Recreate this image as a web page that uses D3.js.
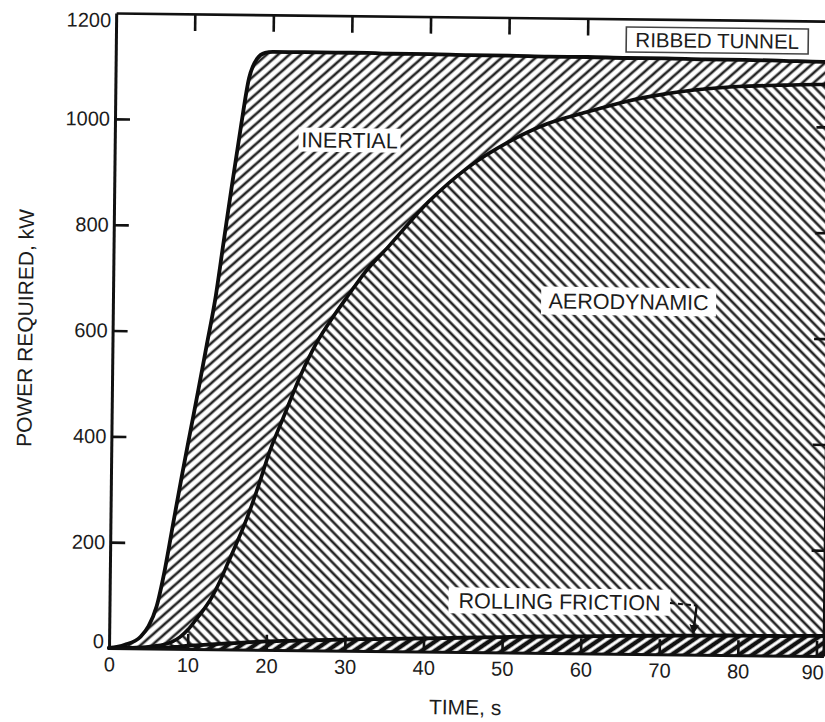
<!DOCTYPE html>
<html>
<head>
<meta charset="utf-8">
<script src="https://cdn.jsdelivr.net/npm/d3@7"></script>
<style>
  html, body { margin: 0; padding: 0; background: #fff; }
  svg { display: block; }
  text { font-family: "Liberation Sans", Arial, sans-serif; fill: #1c1c1c; }
</style>
</head>
<body>
<svg id="chart" width="825" height="722"></svg>
<script>
// Power required during a run in the ribbed tunnel, split into its three parts (kW)
const times = [0,2,4,5,6,7,8,9,10,11,12,13,14,15,16,17,18,19,20,22,24,26,28,30,32,35,40,45,50,55,60,65,70,75,80,85,90,90.9];
const rollingFriction = [0,0,0.5,1,1.5,2,3,4,6,7,8,9,10,11,12,13,14,15,16,17,18,19,20,21,22,23,25,27,29,31,32,34,35,36,37,37,38,38];
const aerodynamic = [0,0.5,1.5,2,3.5,6,10,18,30,48,67,89,118,152,186,221,261,305,352,428,502,563,610,652,693,742,825,889,935,969,991,1010,1024,1033,1038,1041,1042,1042];
const inertial = [0,6,20,39,75,142,225,303,372,435,500,562,642,717,787,846,842,808,762,685,610,548,500,457,415,364,279,212,164,127,104,82,67,56,50,46,43,43];

const seriesKeys = ["rolling", "aero", "inertial"];
const xTicks = [0,10,20,30,40,50,60,70,80,90];
const xTopTicks = [10,20,30,40,50,60];
const yTicks = [0,200,400,600,800,1000,1200];
const yInnerTicks = [200,400,600,800,1000];

const svg = d3.select("#chart");
const defs = svg.append("defs");

// diagonal hatch fills
function hatch(id, angle, period, width, color) {
  const p = defs.append("pattern")
    .attr("id", id)
    .attr("patternUnits", "userSpaceOnUse")
    .attr("width", period).attr("height", period)
    .attr("patternTransform", `rotate(${angle})`);
  p.append("rect").attr("width", period).attr("height", period).attr("fill", "#fff");
  p.append("line")
    .attr("x1", period / 2).attr("x2", period / 2)
    .attr("y1", -1).attr("y2", period + 1)
    .attr("stroke", color).attr("stroke-width", width);
}
hatch("hatch-inertial", 48, 7.5, 2.6, "#262626");
hatch("hatch-aero", -45, 7.2, 2.6, "#262626");
hatch("hatch-rolling", 55, 7.6, 4.4, "#111");

defs.append("marker")
  .attr("id", "arrow")
  .attr("viewBox", "0 0 10 10")
  .attr("refX", 9).attr("refY", 5)
  .attr("markerWidth", 4).attr("markerHeight", 4)
  .attr("orient", "auto")
  .append("path").attr("d", "M0,0 L10,5 L0,10 z").attr("fill", "#111");

// plot frame, origin at the lower-left corner (the printed sheet sits slightly askew)
const W = 714.5, H = 635;
const g = svg.append("g").attr("transform", "translate(109,648) rotate(0.65)");

const x = d3.scaleLinear().domain([0, 90.9]).range([0, W]);
const y = d3.scaleLinear().domain([0, 1200]).range([0, -H]);

const rows = times.map((t, i) => ({
  t,
  rolling: rollingFriction[i],
  aero: aerodynamic[i],
  inertial: inertial[i]
}));
const stacked = d3.stack().keys(seriesKeys)(rows);

const area = d3.area()
  .x(d => x(d.data.t))
  .y0(d => y(d[0]))
  .y1(d => y(d[1]))
  .curve(d3.curveMonotoneX);

const fills = { rolling: "url(#hatch-rolling)", aero: "url(#hatch-aero)", inertial: "url(#hatch-inertial)" };

g.selectAll("path.area")
  .data(stacked)
  .join("path")
  .attr("class", "area")
  .attr("d", area)
  .attr("fill", d => fills[d.key]);

// label plates knocked out of the hatching
const labels = [
  { text: "INERTIAL", t: 29.87, p: 965, w: 102, h: 24, size: 21.5 },
  { text: "AERODYNAMIC", t: 65.6, p: 666, w: 175, h: 28, size: 21.5 },
  { text: "ROLLING FRICTION", t: 57.25, p: 97.5, w: 222, h: 26, size: 21.5 }
];

const lab = g.selectAll("g.label").data(labels).join("g")
  .attr("class", "label")
  .attr("transform", d => `translate(${x(d.t)},${y(d.p)})`);
lab.append("rect")
  .attr("x", d => -d.w / 2).attr("y", d => -d.h / 2)
  .attr("width", d => d.w).attr("height", d => d.h)
  .attr("fill", "#fff");
lab.append("text")
  .attr("text-anchor", "middle")
  .attr("dy", "0.36em")
  .attr("font-size", d => d.size)
  .text(d => d.text);

// boundary curves between the components
const edge = d3.line()
  .x(d => x(d.data.t))
  .y(d => y(d[1]))
  .curve(d3.curveMonotoneX);
const edgeWidth = { rolling: 3.8, aero: 3.6, inertial: 3.8 };
g.selectAll("path.edge")
  .data(stacked)
  .join("path")
  .attr("class", "edge")
  .attr("d", edge)
  .attr("fill", "none")
  .attr("stroke", "#0d0d0d")
  .attr("stroke-width", d => edgeWidth[d.key])
  .attr("stroke-linejoin", "round")
  .attr("stroke-linecap", "round");

// leader from the rolling-friction label down to its band
g.append("path")
  .attr("d", d3.line()([[x(71.3), y(97)], [x(74.7), y(93)]]))
  .attr("stroke", "#111").attr("stroke-width", 2)
  .attr("stroke-dasharray", "5,3").attr("fill", "none");
g.append("path")
  .attr("d", d3.line()([[x(74.7), y(93)], [x(74.3), y(40)]]))
  .attr("stroke", "#111").attr("stroke-width", 2.4)
  .attr("fill", "none")
  .attr("marker-end", "url(#arrow)");

// axes
function styleAxis(sel, w) {
  sel.selectAll(".domain").attr("stroke", "#111").attr("stroke-width", w);
  sel.selectAll(".tick line").attr("stroke", "#111").attr("stroke-width", 2.6);
  sel.selectAll(".tick text").attr("font-size", 20).attr("fill", "#1c1c1c")
    .attr("font-family", '"Liberation Sans", Arial, sans-serif');
}

const gx = g.append("g")
  .call(d3.axisBottom(x).tickValues(xTicks).tickSize(-15).tickSizeOuter(0).tickPadding(9).tickFormat(d3.format("d")));
styleAxis(gx, 3);
gx.selectAll(".tick").filter(d => d === 0).select("line").remove();
gx.selectAll(".tick").filter(d => d === 90).select("text").attr("dx", "-4");

const gxTop = g.append("g")
  .attr("transform", `translate(0,${-H})`)
  .call(d3.axisTop(x).tickValues(xTopTicks).tickSize(-17).tickSizeOuter(0).tickFormat(""));
styleAxis(gxTop, 2.6);

const gy = g.append("g")
  .call(d3.axisLeft(y).tickValues(yTicks).tickSize(-15).tickSizeOuter(0).tickPadding(5).tickFormat(d3.format("d")));
styleAxis(gy, 3);
gy.selectAll(".tick").filter(d => d === 0 || d === 1200).select("line").remove();
gy.selectAll(".tick").filter(d => d === 1200).select("text").attr("dy", "0.68em");
gy.selectAll(".tick").filter(d => d === 0).select("text").attr("dy", "-0.02em");

const gyRight = g.append("g")
  .attr("transform", `translate(${W},0)`)
  .call(d3.axisRight(y).tickValues(yInnerTicks).tickSize(-13).tickSizeOuter(0).tickFormat(""));
styleAxis(gyRight, 3);

// tunnel tag
const tag = g.append("g").attr("transform", `translate(${x(76.5)},${y(1161)})`);
tag.append("rect")
  .attr("x", -91).attr("y", -12.5).attr("width", 182).attr("height", 25)
  .attr("fill", "#fff").attr("stroke", "#444").attr("stroke-width", 1.6);
tag.append("text")
  .attr("text-anchor", "middle").attr("dy", "0.36em")
  .attr("font-size", 20.5)
  .text("RIBBED TUNNEL");

// axis titles
g.append("text")
  .attr("x", x(45.4)).attr("y", 55)
  .attr("text-anchor", "middle").attr("dy", "0.36em")
  .attr("font-size", 21)
  .text("TIME, s");

g.append("text")
  .attr("transform", `translate(-87.6,${-319}) rotate(-90)`)
  .attr("text-anchor", "middle").attr("dy", "0.36em")
  .attr("font-size", 21)
  .text("POWER REQUIRED, kW");
</script>
</body>
</html>
